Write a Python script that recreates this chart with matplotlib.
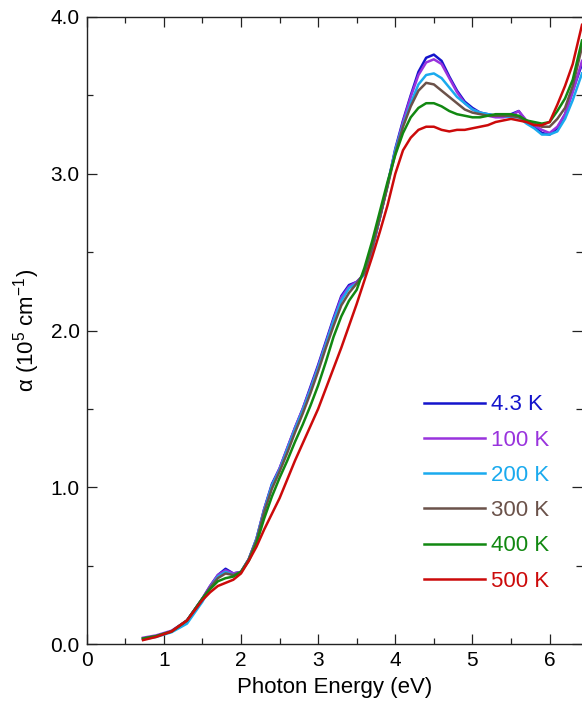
import numpy as np
import matplotlib
matplotlib.use('Agg')
import matplotlib.pyplot as plt
from matplotlib.ticker import MultipleLocator, FormatStrFormatter
from matplotlib.lines import Line2D

plt.rcParams['font.family'] = ['Liberation Sans', 'DejaVu Sans']
plt.rcParams['mathtext.default'] = 'regular'

# photon energy grid (eV)
energy = [0.73, 0.9, 1.1, 1.3, 1.5, 1.6, 1.7, 1.8, 1.9, 2.0, 2.1,
          2.2, 2.3, 2.4, 2.5, 2.6, 2.7, 2.8, 2.9, 3.0, 3.1, 3.2, 3.3, 3.4, 3.5, 3.6,
          3.7, 3.8, 3.9, 4.0, 4.1, 4.2, 4.3, 4.4, 4.5, 4.6, 4.7, 4.8, 4.9, 5.0,
          5.1, 5.2, 5.3, 5.4, 5.5, 5.6, 5.7, 5.8, 5.9, 6.0, 6.1, 6.2, 6.3, 6.42]

# absorption coefficient (10^5 cm^-1)
a_4K = [0.035, 0.05, 0.08, 0.15, 0.29, 0.37, 0.44, 0.48, 0.45, 0.46, 0.54,
        0.67, 0.86, 1.02, 1.12, 1.25, 1.38, 1.50, 1.64, 1.78, 1.93, 2.08, 2.22, 2.29, 2.31, 2.36,
        2.52, 2.72, 2.93, 3.16, 3.34, 3.50, 3.65, 3.74, 3.76, 3.72, 3.62, 3.53, 3.46, 3.42,
        3.39, 3.38, 3.37, 3.37, 3.38, 3.40, 3.33, 3.30, 3.26, 3.25, 3.29, 3.38, 3.53, 3.70]
a_100K = [0.04, 0.055, 0.085, 0.15, 0.29, 0.37, 0.44, 0.47, 0.45, 0.46, 0.54,
          0.67, 0.86, 1.01, 1.12, 1.25, 1.38, 1.50, 1.63, 1.77, 1.92, 2.07, 2.21, 2.28, 2.31, 2.36,
          2.52, 2.72, 2.93, 3.15, 3.33, 3.49, 3.63, 3.71, 3.73, 3.70, 3.61, 3.52, 3.45, 3.41,
          3.39, 3.37, 3.36, 3.36, 3.37, 3.40, 3.34, 3.31, 3.28, 3.26, 3.30, 3.38, 3.52, 3.72]
a_200K = [0.03, 0.045, 0.075, 0.13, 0.27, 0.36, 0.43, 0.46, 0.44, 0.46, 0.54,
          0.67, 0.85, 1.01, 1.11, 1.24, 1.37, 1.49, 1.62, 1.76, 1.91, 2.06, 2.19, 2.27, 2.30, 2.36,
          2.52, 2.72, 2.93, 3.15, 3.31, 3.45, 3.57, 3.63, 3.64, 3.61, 3.55, 3.49, 3.45, 3.41,
          3.39, 3.38, 3.37, 3.37, 3.36, 3.36, 3.32, 3.29, 3.25, 3.25, 3.27, 3.35, 3.47, 3.64]
a_300K = [0.035, 0.05, 0.08, 0.15, 0.29, 0.36, 0.42, 0.45, 0.44, 0.46, 0.54,
          0.66, 0.84, 0.99, 1.10, 1.22, 1.35, 1.47, 1.60, 1.74, 1.89, 2.03, 2.16, 2.24, 2.30, 2.37,
          2.53, 2.72, 2.92, 3.13, 3.30, 3.43, 3.53, 3.58, 3.57, 3.53, 3.49, 3.45, 3.41, 3.39,
          3.38, 3.37, 3.37, 3.37, 3.37, 3.36, 3.34, 3.32, 3.30, 3.30, 3.35, 3.42, 3.56, 3.81]
a_400K = [0.035, 0.05, 0.08, 0.15, 0.29, 0.35, 0.40, 0.42, 0.43, 0.46, 0.53,
          0.64, 0.80, 0.94, 1.06, 1.17, 1.29, 1.40, 1.52, 1.65, 1.80, 1.96, 2.09, 2.19, 2.26, 2.40,
          2.57, 2.76, 2.95, 3.12, 3.26, 3.36, 3.42, 3.45, 3.45, 3.43, 3.40, 3.38, 3.37, 3.36,
          3.36, 3.37, 3.38, 3.38, 3.38, 3.37, 3.34, 3.33, 3.32, 3.33, 3.40, 3.48, 3.60, 3.85]
a_500K = [0.025, 0.045, 0.08, 0.15, 0.28, 0.33, 0.37, 0.39, 0.41, 0.45, 0.53,
          0.62, 0.73, 0.83, 0.93, 1.05, 1.17, 1.28, 1.39, 1.50, 1.63, 1.76, 1.89, 2.03, 2.17, 2.32,
          2.47, 2.63, 2.80, 3.00, 3.15, 3.23, 3.28, 3.30, 3.30, 3.28, 3.27, 3.28, 3.28, 3.29,
          3.30, 3.31, 3.33, 3.34, 3.35, 3.34, 3.33, 3.31, 3.31, 3.33, 3.44, 3.56, 3.70, 3.95]

labels = ['4.3 K', '100 K', '200 K', '300 K', '400 K', '500 K']
series = [a_4K, a_100K, a_200K, a_300K, a_400K, a_500K]
colors = ['#1414cc', '#9933dd', '#1aaaee', '#6b524a', '#118811', '#cc0a0a']

fig = plt.figure(figsize=(5.82, 7.02), dpi=100)
ax = fig.add_axes([86.7 / 582, 1 - 644 / 702, (582 - 86.7) / 582, (644 - 17) / 702])

for y, c in zip(series, colors):
    ax.plot(energy, y, color=c, lw=1.8)

ax.set_xlim(0, 6.42)
ax.set_ylim(0, 4.0)
ax.xaxis.set_major_locator(MultipleLocator(1))
ax.xaxis.set_minor_locator(MultipleLocator(0.5))
ax.yaxis.set_major_locator(MultipleLocator(1))
ax.yaxis.set_minor_locator(MultipleLocator(0.5))
ax.yaxis.set_major_formatter(FormatStrFormatter('%.1f'))
ax.tick_params(which='both', direction='in', top=True, right=True, width=0.9, colors='#222222')
ax.tick_params(which='major', length=7.5, labelsize=15, labelcolor='black')
ax.tick_params(which='minor', length=4)
ax.tick_params(axis='x', pad=5)
ax.tick_params(axis='y', pad=5)
for s in ['left', 'bottom', 'top']:
    ax.spines[s].set_linewidth(1.0)
    ax.spines[s].set_color('#222222')
ax.spines['right'].set_visible(False)

ax.set_xlabel('Photon Energy (eV)', fontsize=16, labelpad=5)
ax.set_ylabel('α (10$^5$ cm$^{-1}$)', fontsize=16, labelpad=6)

handles = [Line2D([], [], color=c, lw=1.8) for c in colors]
leg = ax.legend(handles, labels, loc='upper left', bbox_to_anchor=(0.681, 0.398),
                frameon=False, fontsize=16, handlelength=2.75, handletextpad=0.25,
                labelspacing=0.64, borderpad=0, borderaxespad=0)
for t, c in zip(leg.get_texts(), colors):
    t.set_color(c)

fig.savefig('out.png', dpi=100)
